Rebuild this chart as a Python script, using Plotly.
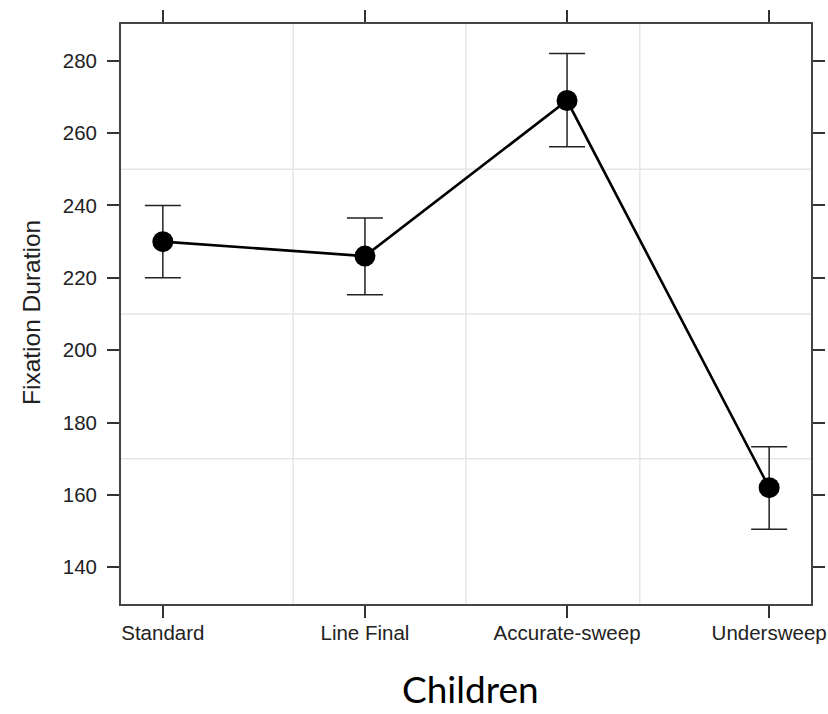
import plotly.graph_objects as go

categories = ["Standard", "Line Final", "Accurate-sweep", "Undersweep"]
means = [230.0, 226.0, 269.0, 162.0]
upper = [240.0, 236.5, 282.0, 173.3]
lower = [220.0, 215.3, 256.2, 150.5]
y_ticks = [140, 160, 180, 200, 220, 240, 260, 280]
grid_y = [170, 210, 250]
grid_x = [0.645, 1.5, 2.36]

err_plus = [u - m for u, m in zip(upper, means)]
err_minus = [m - l for m, l in zip(means, lower)]

fig = go.Figure()
fig.add_trace(go.Scatter(
    x=categories, y=means, mode="lines+markers",
    line=dict(color="black", width=2.6),
    marker=dict(color="black", size=21),
    error_y=dict(type="data", array=err_plus, arrayminus=err_minus,
                 color="#222222", thickness=1.5, width=18),
    showlegend=False, hoverinfo="skip",
))

for gx in grid_x:
    fig.add_shape(type="line", xref="x", yref="paper", x0=gx, x1=gx, y0=0, y1=1,
                  line=dict(color="#e6e6e6", width=1.5), layer="below")
for gy in grid_y:
    fig.add_shape(type="line", xref="paper", yref="y", x0=0, x1=1, y0=gy, y1=gy,
                  line=dict(color="#e6e6e6", width=1.5), layer="below")

axis_font = dict(family="Liberation Sans, Arial, sans-serif", size=20.5, color="#222222")

fig.update_layout(
    width=828, height=714,
    margin=dict(l=121, r=17, t=24, b=110),
    plot_bgcolor="white", paper_bgcolor="white",
    xaxis=dict(type="category", categoryorder="array", categoryarray=categories,
               range=[-0.207, 3.207], showgrid=False, zeroline=False, automargin=False,
               showline=True, linecolor="#444444", linewidth=1.8, mirror="ticks",
               ticks="outside", ticklen=12, tickwidth=1.5, tickcolor="#333333",
               tickfont=axis_font, ticklabelstandoff=-3),
    yaxis=dict(range=[129.85, 290.15], tickvals=y_ticks, showgrid=False, zeroline=False,
               automargin=False,
               showline=True, linecolor="#444444", linewidth=1.8, mirror="ticks",
               ticks="outside", ticklen=12, tickwidth=1.5, tickcolor="#333333",
               tickfont=axis_font, ticklabelstandoff=6),
    annotations=[
        dict(text="Fixation Duration", x=31, y=313, xref="paper", yref="paper",
             showarrow=False, textangle=-90,
             font=dict(family="Liberation Sans, Arial, sans-serif", size=24.5, color="#222222")),
        dict(text="Children", x=470, y=688, xref="paper", yref="paper",
             showarrow=False,
             font=dict(family="Lato, Open Sans, sans-serif", size=37, color="black")),
    ],
)

# convert pixel annotation positions to paper coordinates
pw = 828 - 121 - 17
ph = 714 - 24 - 110
for a in fig.layout.annotations:
    px, py = a.x, a.y
    a.x = (px - 121) / pw
    a.y = 1 - (py - 24) / ph
    a.xanchor = "center"
    a.yanchor = "middle"

fig.write_html("out.html", config={"displayModeBar": False},
               post_script="document.body.style.margin='0px';document.body.style.overflow='hidden';")
